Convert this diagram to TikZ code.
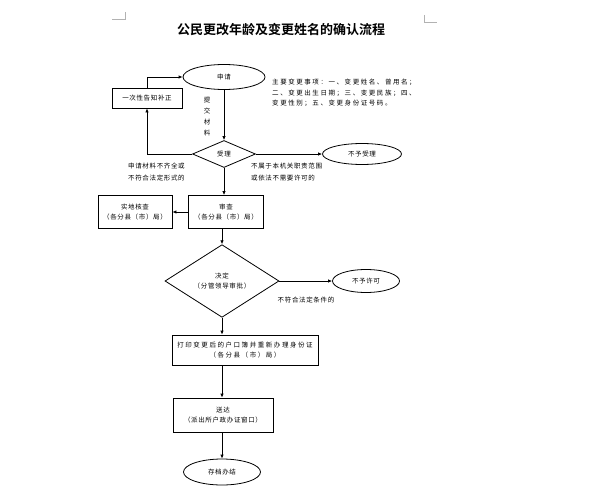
\documentclass[tikz,border=0pt]{standalone}
\usepackage{fontspec}
\setmainfont{Noto Sans CJK SC}[BoldFont={Noto Sans CJK SC Bold}]
\newfontfamily\cjk{Noto Sans CJK SC}[LetterSpace=10]
\newfontfamily\cjkwide{Noto Sans CJK SC}[LetterSpace=24]
\usetikzlibrary{shapes.geometric}
\usetikzlibrary{arrows.meta}
\tikzstyle{stepbox}=[rectangle,draw,line width=0.8pt,inner sep=1pt,align=center,font=\cjk\fontsize{6.5}{10}\selectfont]
\tikzstyle{oval}=[ellipse,draw,line width=0.8pt,inner sep=0pt,align=center,font=\cjk\fontsize{6.5}{10}\selectfont]
\tikzstyle{choice}=[diamond,draw,line width=0.8pt,inner sep=0pt,align=center,font=\cjk\fontsize{6.5}{10}\selectfont]
\tikzstyle{note}=[inner sep=0pt,align=center,font=\cjk\fontsize{6.5}{12}\selectfont]
\tikzstyle{flow}=[line width=0.8pt,-{Latex[length=4pt,width=3.5pt]}]

\begin{document}
\begin{tikzpicture}[x=1pt,y=-1pt]
\useasboundingbox (0,0) rectangle (612,500);
% page corners
\draw[gray!60,line width=0.5pt] (112,19) -- (125,19) -- (125,12);
\draw[gray!60,line width=0.5pt] (424,15) -- (424,22) -- (437,22);

% title
\node[font=\bfseries\fontsize{13}{15}\selectfont] (title) at (281,30) {公民更改年龄及变更姓名的确认流程};

% vertices
\node[oval,minimum width=82,minimum height=25] (apply) at (224,77) {申请};
\node[stepbox,minimum width=70,minimum height=20] (notify) at (147,98) {一次性告知补正};
\node[note,font=\cjk\fontsize{6.5}{11}\selectfont] (submit) at (207,117) {提\\交\\材\\料};
\node[note,align=left,anchor=north west,font=\cjkwide\fontsize{6.5}{10.5}\selectfont] (items) at (272,79)
  {主要变更事项：一、变更姓名、曾用名；\\二、变更出生日期；三、变更民族；四、\\变更性别；五、变更身份证号码。};

\node[choice,minimum width=63,minimum height=27] (accept) at (224,154) {受理};
\node[oval,minimum width=79,minimum height=21] (refuse) at (362,154) {不予受理};
\node[note,align=left,anchor=west] (lackinfo) at (128,172) {申请材料不齐全或\\不符合法定形式的};
\node[note,align=left,anchor=west] (outscope) at (251,172) {不属于本机关职责范围\\或依法不需要许可的};

\node[stepbox,minimum width=75,minimum height=33] (check) at (226,212) {审查\\（各分县（市）局）};
\node[stepbox,minimum width=74,minimum height=33] (site) at (135,212) {实地核查\\（各分县（市）局）};

\node[choice,minimum width=114,minimum height=48] (decide) at (222,281) {决定\\（分管领导审批）};
\node[oval,minimum width=67,minimum height=23] (deny) at (366,281) {不予许可};
\node[note] (unfit) at (306,300) {不符合法定条件的};

\node[stepbox,minimum width=146,minimum height=30,font=\cjkwide\fontsize{6.5}{10}\selectfont] (print) at (245,350) {打印变更后的户口簿并重新办理身份证\\（各分县（市）局）};
\node[stepbox,minimum width=100,minimum height=34] (deliver) at (223,415) {送达\\（派出所户政办证窗口）};
\node[oval,minimum width=77,minimum height=26] (archive) at (222,472) {存档办结};

% edges and paths
\draw[flow] (apply.south) -- (apply.south |- accept.north);
\draw[flow] (notify.north) |- (apply.west);
\draw[flow] (accept.west) -| (notify.south);
\draw[flow] (accept) -- (refuse);
\draw[flow] (accept.south) -- (accept.south |- check.north);
\draw[flow] (check) -- (site);
\draw[flow] (decide.north |- check.south) -- (decide.north);
\draw[flow] (decide) -- (deny);
\draw[flow] (decide.south) -- (decide.south |- print.north);
\draw[flow] (decide.south |- print.south) -- (deliver.north -| decide.south);
\draw[flow] (deliver.south -| archive.north) -- (archive.north);

\end{tikzpicture}
\end{document}
